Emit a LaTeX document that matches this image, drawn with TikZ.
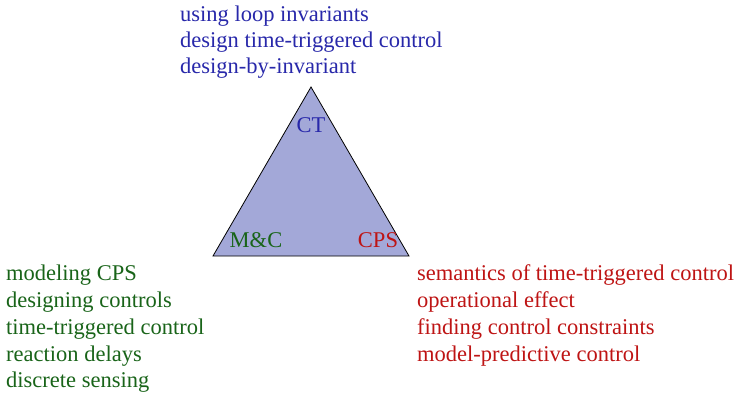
\documentclass[tikz,border=0pt]{standalone}
\usepackage{fontspec}
\setmainfont{Liberation Serif}
\definecolor{ctblue}{RGB}{40,40,170}
\definecolor{mcgreen}{RGB}{25,100,25}
\definecolor{cpsred}{RGB}{190,20,20}
\definecolor{trifill}{RGB}{163,168,216}
\tikzset{
  lbl/.style={inner sep=0pt, anchor=base west, font=\fontsize{22.5}{27}\selectfont},
  corner/.style={inner sep=0pt, anchor=base, font=\fontsize{22.5}{27}\selectfont},
}
\begin{document}
\begin{tikzpicture}[x=1pt,y=-1pt]
\useasboundingbox (0,0) rectangle (736,393);
\coordinate (top) at (311,87);
\coordinate (bl) at (213,256);
\coordinate (br) at (409,256);
\filldraw[fill=trifill, draw=black, line width=0.8pt, line join=miter] (top) -- (bl) -- (br) -- cycle;
\node[corner, text=ctblue] (ct) at (311,132) {CT};
\node[corner, text=mcgreen] (mc) at (256,247) {M\&C};
\node[corner, text=cpsred] (cps) at (378,247) {CPS};
\node[lbl, text=ctblue] (t1) at (180,22) {using loop invariants};
\node[lbl, text=ctblue] (t2) at (180,48) {design time-triggered control};
\node[lbl, text=ctblue] (t3) at (180,74) {design-by-invariant};
\node[lbl, text=mcgreen] (g1) at (6,280) {modeling CPS};
\node[lbl, text=mcgreen] (g2) at (6,307) {designing controls};
\node[lbl, text=mcgreen] (g3) at (6,334) {time-triggered control};
\node[lbl, text=mcgreen] (g4) at (6,361) {reaction delays};
\node[lbl, text=mcgreen] (g5) at (6,387) {discrete sensing};
\node[lbl, text=cpsred] (r1) at (417,280) {semantics of time-triggered control};
\node[lbl, text=cpsred] (r2) at (417,307) {operational effect};
\node[lbl, text=cpsred] (r3) at (417,334) {finding control constraints};
\node[lbl, text=cpsred] (r4) at (417,361) {model-predictive control};
\end{tikzpicture}
\end{document}
